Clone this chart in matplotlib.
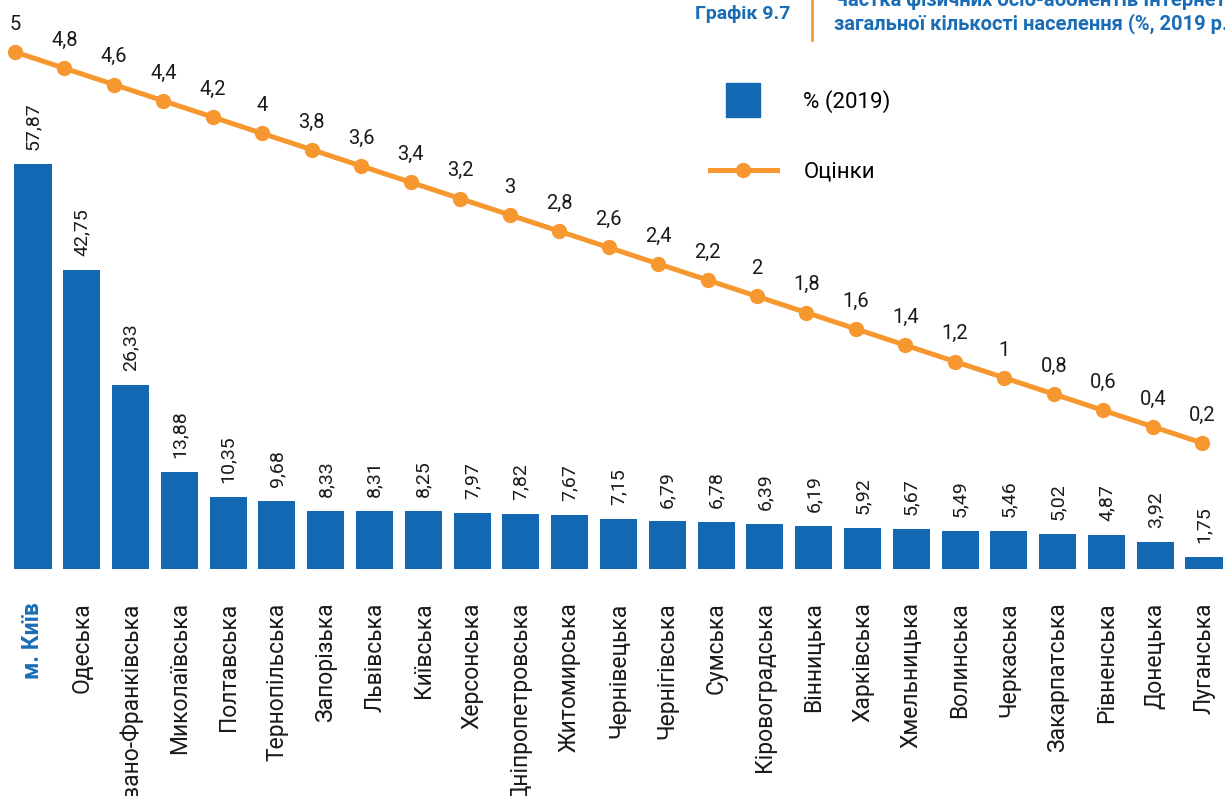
import matplotlib
matplotlib.use("Agg")
import matplotlib.pyplot as plt
from matplotlib.lines import Line2D

plt.rcParams['font.family'] = ['Roboto', 'DejaVu Sans']

regions = ['м. Київ', 'Одеська', 'Івано-Франківська', 'Миколаївська', 'Полтавська',
           'Тернопільська', 'Запорізька', 'Львівська', 'Київська', 'Херсонська',
           'Дніпропетровська', 'Житомирська', 'Чернівецька', 'Чернігівська', 'Сумська',
           'Кіровоградська', 'Вінницька', 'Харківська', 'Хмельницька', 'Волинська',
           'Черкаська', 'Закарпатська', 'Рівненська', 'Донецька', 'Луганська']
share_2019 = [57.87, 42.75, 26.33, 13.88, 10.35, 9.68, 8.33, 8.31, 8.25, 7.97,
              7.82, 7.67, 7.15, 6.79, 6.78, 6.39, 6.19, 5.92, 5.67, 5.49,
              5.46, 5.02, 4.87, 3.92, 1.75]
scores = [5, 4.8, 4.6, 4.4, 4.2, 4, 3.8, 3.6, 3.4, 3.2, 3, 2.8, 2.6, 2.4, 2.2,
          2, 1.8, 1.6, 1.4, 1.2, 1, 0.8, 0.6, 0.4, 0.2]

blue = '#1268b3'
orange = '#f7972f'
title_blue = '#1a6db5'

fig = plt.figure(figsize=(12.25, 7.96), dpi=100)
# bars: baseline at y=569px, 7 px per percent
ax = fig.add_axes([0, 1 - 569 / 796, 1, 569 / 796])
x = list(range(len(regions)))
bars = ax.bar(x, share_2019, width=0.76, color=blue)
ax.set_xlim(-0.676, 24.43)
ax.set_ylim(0, 81.3)
for xi, v in zip(x, share_2019):
    ax.annotate(f"{v:.2f}".replace('.', ','), (xi, v), xytext=(0, 10),
                textcoords='offset points', rotation=90, ha='center', va='bottom',
                fontsize=14, color='#1a1a1a')
ax.set_xticks(x)
ax.set_xticklabels(regions, rotation=90, fontsize=16.5, color='#1a1a1a')
ax.tick_params(axis='x', length=0, pad=24)
ax.tick_params(axis='y', left=False, labelleft=False)
lab0 = ax.get_xticklabels()[0]
lab0.set_color(title_blue)
lab0.set_fontweight('bold')
for s in ax.spines.values():
    s.set_visible(False)

# line with its own horizontal scale
ax2 = fig.add_axes(ax.get_position(), frameon=False)
ax2.plot(x, scores, color=orange, lw=3.6, marker='o', markersize=10, zorder=3)
ax2.set_xlim(-0.303, 24.46)
ax2.set_ylim(-1.347, 5.638)
ax2.set_xticks([])
ax2.set_yticks([])
for xi, v in zip(x, scores):
    ax2.annotate(f"{v:g}".replace('.', ','), (xi, v), xytext=(0, 20),
                 textcoords='offset points', ha='center', va='center',
                 fontsize=14.5, color='#1a1a1a')

handles = [Line2D([], [], ls='none', marker='s', markersize=25, color=blue),
           Line2D([], [], color=orange, lw=3.6, marker='o', markersize=10)]
fig.legend(handles, ['% (2019)', 'Оцінки'], loc='upper left',
           bbox_to_anchor=(690 / 1225, 1 - 70 / 796), frameon=False,
           fontsize=16, handlelength=3.0, handletextpad=1.2, labelspacing=2.2)

# title (cut at the figure edge, as in the source)
fig.text(695 / 1225, 1 - 14 / 796, 'Графік 9.7', fontsize=14, fontweight='bold',
         color=title_blue, va='center', ha='left')
fig.add_artist(Line2D([812 / 1225, 812 / 1225], [1 - 40 / 796, 1.0],
                      color=orange, lw=2))
fig.text(834 / 1225, 1 - 29 / 796,
         'Частка фізичних осіб-абонентів Інтернет від\n'
         'загальної кількості населення (%, 2019 р.)',
         fontsize=14.5, fontweight='bold', color=title_blue, va='baseline',
         ha='left', linespacing=1.2)

fig.savefig('out.png', dpi=100)
